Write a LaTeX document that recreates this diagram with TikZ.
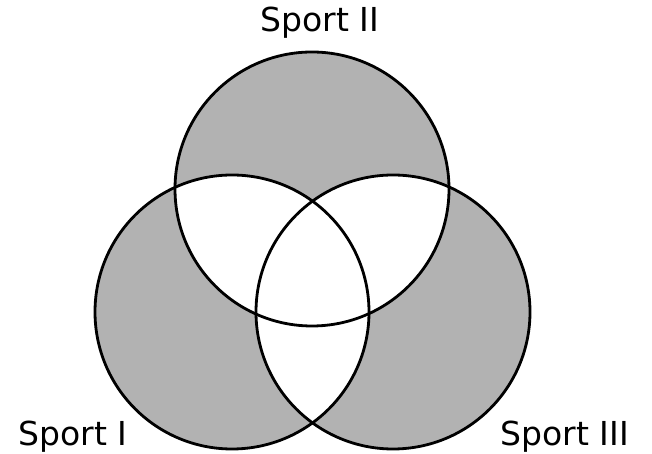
\documentclass[tikz,border=0pt]{standalone}
\usepackage{fontspec}
\setmainfont{DejaVu Sans}
\usepackage{tikz}

\tikzset{
  setfill/.style={fill=black!30},
  setline/.style={line width=2.8pt},
  setlabel/.style={font=\fontsize{33}{38}\selectfont, inner sep=0pt},
}

\begin{document}
\begin{tikzpicture}[x=1pt, y=1pt]
  \useasboundingbox (0,0) rectangle (652,454);
  \def\rad{137}
  % set centres
  \coordinate (two) at (312,265);
  \coordinate (one) at (232,142);
  \coordinate (three) at (393,142);
  % grey for every set, white where two overlap
  \foreach \c in {one,two,three}{
    \fill[setfill] (\c) circle (\rad);
  }
  \foreach \a/\b in {one/two, two/three, one/three}{
    \begin{scope}
      \clip (\a) circle (\rad);
      \fill[white] (\b) circle (\rad);
    \end{scope}
  }
  % outlines
  \foreach \c in {one,two,three}{
    \draw[setline] (\c) circle (\rad);
  }
  \node[setlabel] (lbltwo) at (320,431) {Sport II};
  \node[setlabel] (lblone) at (73,17) {Sport I};
  \node[setlabel] (lblthree) at (565,17) {Sport III};
\end{tikzpicture}
\end{document}
